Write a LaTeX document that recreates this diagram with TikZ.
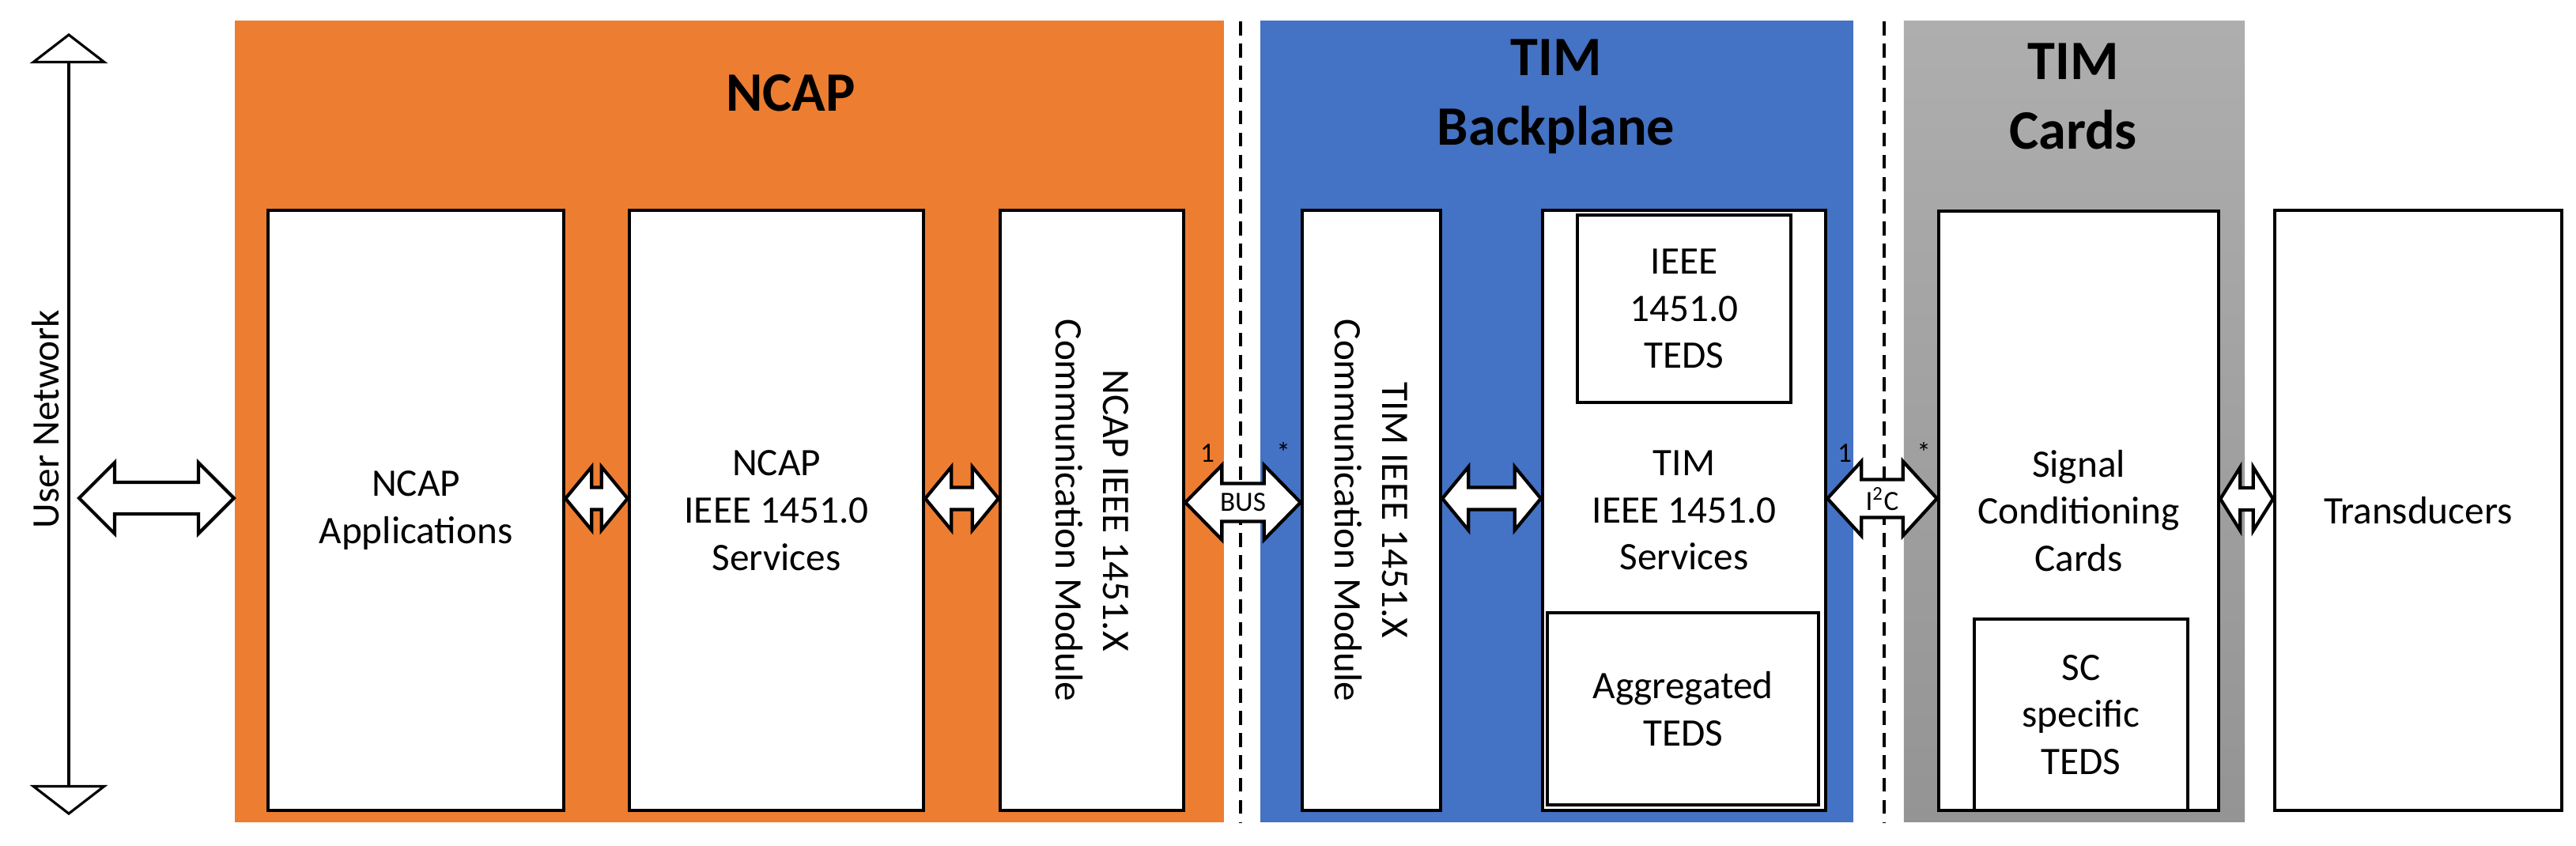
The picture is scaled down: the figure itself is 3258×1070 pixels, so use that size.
\documentclass[tikz,border=0pt]{standalone}
\usepackage{fontspec}
\setmainfont{Carlito}
\usetikzlibrary{arrows.meta,positioning,calc}
\definecolor{ncaporange}{HTML}{ED7D31}
\definecolor{timblue}{HTML}{4472C4}
\definecolor{cardtop}{HTML}{AEAEAE}
\definecolor{cardbot}{HTML}{949494}
\tikzset{
    panel/.style={
        rectangle,
        draw=none,
        inner sep=0pt,
        minimum height=10.13cm,
    },
    box/.style={
        rectangle,
        draw=black,
        line width=1.2pt,
        fill=white,
        align=center,
        inner sep=2pt,
        font=\fontsize{14}{17}\selectfont,
    },
    title/.style={
        align=center,
        font=\fontsize{20}{25}\selectfont\bfseries,
    },
    fat/.style={
        draw=black,
        line width=1.2pt,
        fill=white,
        line join=miter,
    },
    mult/.style={
        font=\fontsize{10}{11}\selectfont,
        inner sep=0pt,
    },
    sep/.style={
        draw,
        line width=1.2pt,
        dash pattern=on 5pt off 3pt,
    },
}
% double-headed block arrow: left point, right point, head length, shaft half, head half
\newcommand{\twoway}[5]{
    \draw[fat] let \p1=(#1), \p2=(#2) in
        (\x1,\y1) -- (\x1+#3,\y1+#5) -- (\x1+#3,\y1+#4) -- (\x2-#3,\y1+#4)
        -- (\x2-#3,\y1+#5) -- (\x2,\y1) -- (\x2-#3,\y1-#5) -- (\x2-#3,\y1-#4)
        -- (\x1+#3,\y1-#4) -- (\x1+#3,\y1-#5) -- cycle;
}
\begin{document}
\begin{tikzpicture}[x=0.01cm,y=-0.01cm]
    \useasboundingbox (0,0) rectangle (3258,1070);

    % panels
    \node [panel, fill=ncaporange, minimum width=12.51cm] (ncap) at (922.5,533) {};
    \node [panel, fill=timblue, minimum width=7.50cm] (timbp) at (1969,533) {};
    \node [panel, top color=cardtop, bottom color=cardbot, minimum width=4.31cm] (timcards) at (2623.5,533) {};
    \node [title] at (1000,118) {NCAP};
    \node [title] at (1968,122) {TIM\\Backplane};
    \node [title] at (2622,122) {TIM\\Cards};

    \coordinate (sepa) at (1569,27);
    \coordinate (sepb) at (2383,27);
    \draw [sep] (sepa) -- ++(0,1013);
    \draw [sep] (sepb) -- ++(0,1013);

    % boxes
    \node [box, minimum width=3.74cm, minimum height=7.59cm] (apps) at (526,645.5) {NCAP\\Applications};
    \node [box, minimum width=3.72cm, minimum height=7.59cm] (srv) at (982,645.5) {NCAP\\IEEE 1451.0\\Services};
    \node [box, minimum width=2.32cm, minimum height=7.59cm] (ncom) at (1381,645.5) {};
    \node [rotate=-90, align=center, font=\fontsize{14}{17}\selectfont] at (ncom) {NCAP IEEE 1451.X\\Communication Module};
    \node [box, minimum width=1.75cm, minimum height=7.59cm] (tcom) at (1734.5,645.5) {};
    \node [rotate=-90, align=center, font=\fontsize{14}{17}\selectfont] at (tcom) {TIM IEEE 1451.X\\Communication Module};
    \node [box, minimum width=3.58cm, minimum height=7.59cm] (tsrv) at (2130,645.5) {TIM\\IEEE 1451.0\\Services};
    \node [box, minimum width=2.70cm, minimum height=2.37cm] (iteds) at (2130,390.5) {IEEE\\1451.0\\TEDS};
    \node [box, minimum width=3.43cm, minimum height=2.43cm] (agg) at (2128.5,896.5) {Aggregated\\TEDS};
    \node [box, minimum width=3.54cm, minimum height=7.58cm] (sig) at (2629,646) {Signal\\Conditioning\\Cards};
    \node [box, minimum width=2.70cm, minimum height=2.42cm] (sct) at (2632,904) {SC\\specific\\TEDS};
    \node [box, minimum width=3.63cm, minimum height=7.59cm] (trans) at (3058.5,645.5) {Transducers};

    % user network
    \coordinate (nettop) at (87,42);
    \coordinate (netbot) at (87,1031);
    \coordinate (netmid) at (100,630);
    \draw [line width=0.9pt, {Triangle[open,width=0.98cm,length=0.38cm,line width=0.9pt]}-{Triangle[open,width=0.98cm,length=0.38cm,line width=0.9pt]}] (nettop) -- (netbot);
    \node [rotate=90, font=\fontsize{14}{17}\selectfont] at (58,530) {User Network};

    % links
    \twoway{netmid}{[yshift=-0.97cm]ncap.west}{0.45cm}{0.2cm}{0.45cm}
    \twoway{[yshift=0.15cm]apps.east}{[yshift=0.15cm]srv.west}{0.33cm}{0.14cm}{0.4cm}
    \twoway{[yshift=0.15cm]srv.east}{[yshift=0.15cm]ncom.west}{0.33cm}{0.14cm}{0.4cm}
    \twoway{[yshift=0.15cm]tcom.east}{[yshift=0.15cm]tsrv.west}{0.33cm}{0.14cm}{0.4cm}
    \twoway{[yshift=0.15cm]sig.east}{[yshift=0.15cm]trans.west}{0.25cm}{0.14cm}{0.4cm}
    \twoway{[yshift=0.1cm]ncom.east}{[yshift=0.1cm]tcom.west}{0.46cm}{0.24cm}{0.47cm}
    \twoway{[yshift=0.15cm]tsrv.east}{[yshift=0.15cm]sig.west}{0.43cm}{0.24cm}{0.47cm}
    \node [font=\fontsize{10}{11}\selectfont] at ($(ncom.east)!0.5!(tcom.west)+(0,-10)$) {BUS};
    \node [font=\fontsize{10}{11}\selectfont] at ($(tsrv.east)!0.5!(sig.west)+(0,-15)$) {I\textsuperscript{2}C};
    \node [mult] at (1527,573) {1};
    \node [mult] at (1623,572) {*};
    \node [mult] at (2333,573) {1};
    \node [mult] at (2433,572) {*};
\end{tikzpicture}
\end{document}
